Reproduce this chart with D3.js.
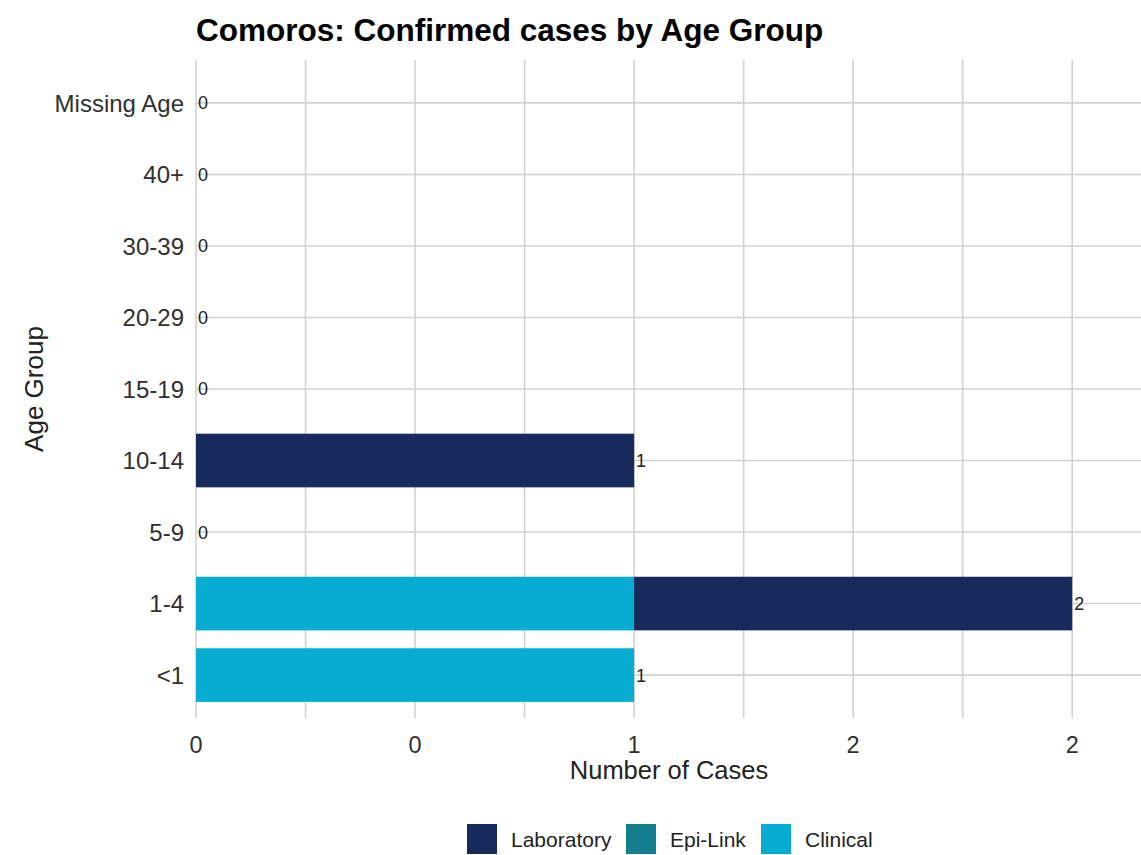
<!DOCTYPE html>
<html>
<head>
<meta charset="utf-8">
<script src="https://cdn.jsdelivr.net/npm/d3@7"></script>
<style>
  body { margin: 0; background: #fff; }
  svg text { font-family: "Liberation Sans", Arial, sans-serif; }
  .grid line { stroke: #d2d2d2; stroke-width: 1.6; }
  .ylab { font-size: 24px; fill: #303030; }
  .xlab { font-size: 23.5px; fill: #303030; }
  .val { font-size: 18px; fill: #222; }
</style>
</head>
<body>
<svg width="1141" height="855"></svg>
<script>
const ageGroups = ["Missing Age", "40+", "30-39", "20-29", "15-19", "10-14", "5-9", "1-4", "<1"]
const laboratory = [0, 0, 0, 0, 0, 1, 0, 1, 0]
const epiLink = [0, 0, 0, 0, 0, 0, 0, 0, 0]
const clinical = [0, 0, 0, 0, 0, 0, 0, 1, 1]
const xTicks = [0, 0.5, 1, 1.5, 2]
const xTickLabels = ["0", "0", "1", "2", "2"]
const minorTicks = [0.25, 0.75, 1.25, 1.75]

const seriesNames = ["Laboratory", "Epi-Link", "Clinical"]
const seriesColors = ["#182a5b", "#137f8f", "#07add0"]

const svg = d3.select("svg")

const x = d3.scaleLinear()
    .domain([0, 2.157])
    .range([196, 1141])

const y = d3.scalePoint()
    .domain(ageGroups)
    .range([60, 718])
    .padding(0.6)

const barH = y.step() * 0.75

// grid
const grid = svg.append("g").attr("class", "grid")
grid.selectAll("line.v")
    .data(xTicks.concat(minorTicks))
    .enter()
    .append("line")
    .attr("x1", d => x(d)).attr("x2", d => x(d))
    .attr("y1", 60).attr("y2", 718)
grid.selectAll("line.h")
    .data(ageGroups)
    .enter()
    .append("line")
    .attr("x1", 196).attr("x2", 1141)
    .attr("y1", d => y(d)).attr("y2", d => y(d))

// stacked bars: Clinical first (left), then Epi-Link, then Laboratory
const rows = ageGroups.map((g, i) => ({
    group: g, "Clinical": clinical[i], "Epi-Link": epiLink[i], "Laboratory": laboratory[i]
}))
const stack = d3.stack().keys(["Clinical", "Epi-Link", "Laboratory"])
const stacked = stack(rows)

svg.append("g")
    .selectAll("g")
    .data(stacked)
    .enter()
    .append("g")
    .attr("fill", d => seriesColors[seriesNames.indexOf(d.key)])
    .selectAll("rect")
    .data(d => d.filter(s => s[1] > s[0]))
    .enter()
    .append("rect")
    .attr("x", d => x(d[0]))
    .attr("width", d => x(d[1]) - x(d[0]))
    .attr("y", d => y(d.data.group) - barH / 2)
    .attr("height", barH)

// totals
svg.append("g")
    .selectAll("text")
    .data(rows)
    .enter()
    .append("text")
    .attr("class", "val")
    .attr("x", d => x(d.Clinical + d["Epi-Link"] + d.Laboratory) + 2)
    .attr("y", d => y(d.group))
    .attr("dy", "0.36em")
    .text(d => d.Clinical + d["Epi-Link"] + d.Laboratory)

// y axis labels
svg.append("g")
    .selectAll("text")
    .data(ageGroups)
    .enter()
    .append("text")
    .attr("class", "ylab")
    .attr("x", 184)
    .attr("y", d => y(d))
    .attr("dy", "0.36em")
    .attr("text-anchor", "end")
    .text(d => d)

// x axis labels
svg.append("g")
    .selectAll("text")
    .data(xTicks)
    .enter()
    .append("text")
    .attr("class", "xlab")
    .attr("x", d => x(d))
    .attr("y", 753)
    .attr("text-anchor", "middle")
    .text((d, i) => xTickLabels[i])

// titles
svg.append("text")
    .attr("x", 196).attr("y", 41)
    .style("font-size", "31.5px").style("font-weight", "bold").style("fill", "#000")
    .text("Comoros: Confirmed cases by Age Group")

svg.append("text")
    .attr("x", 669).attr("y", 779)
    .attr("text-anchor", "middle")
    .style("font-size", "25.5px").style("fill", "#222")
    .text("Number of Cases")

svg.append("text")
    .attr("transform", "translate(43, 389) rotate(-90)")
    .attr("text-anchor", "middle")
    .style("font-size", "26px").style("fill", "#222")
    .text("Age Group")

// legend
const legendX = [467, 626, 761]
const legend = svg.append("g")
    .selectAll("g")
    .data(seriesNames)
    .enter()
    .append("g")
    .attr("transform", (d, i) => "translate(" + legendX[i] + ", 824)")
legend.append("rect")
    .attr("width", 30).attr("height", 30)
    .attr("fill", (d, i) => seriesColors[i])
legend.append("text")
    .attr("x", 44).attr("y", 15).attr("dy", "0.36em")
    .style("font-size", "21px").style("fill", "#222")
    .text(d => d)
</script>
</body>
</html>
